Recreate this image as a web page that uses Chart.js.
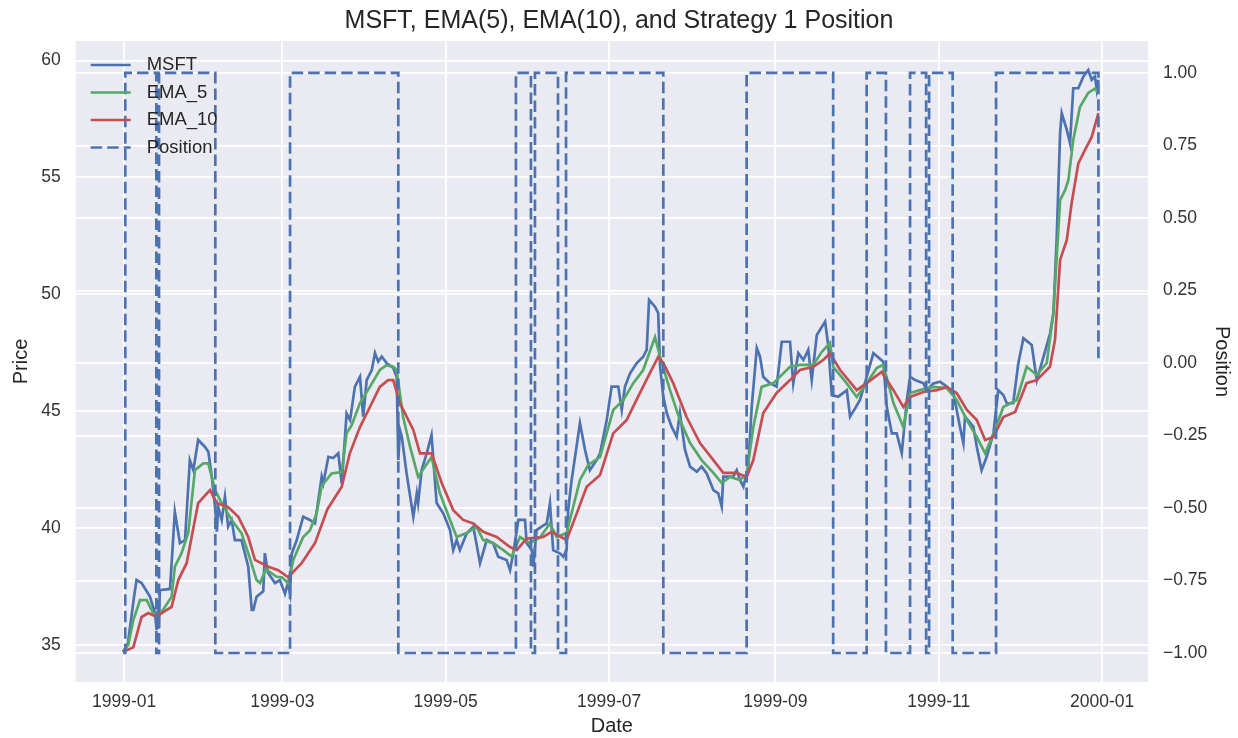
<!DOCTYPE html>
<html>
<head>
<meta charset="utf-8">
<title>MSFT EMA Strategy</title>
<script src="https://cdn.jsdelivr.net/npm/chart.js@4.4.0/dist/chart.umd.min.js"></script>
<style>
  body { margin: 0; background: #fff; }
  canvas { display: block; }
</style>
</head>
<body>
<canvas id="grafik" width="1238" height="738"></canvas>
<script>
// Hari = jumlah hari sejak 1999-01-01
const tickHari = [0, 59, 120, 181, 243, 304, 365];
const tickLabel = ["1999-01", "1999-03", "1999-05", "1999-07", "1999-09", "1999-11", "2000-01"];
const tickHarga = [35, 40, 45, 50, 55, 60];
const tickPosisi = [-1, -0.75, -0.5, -0.25, 0, 0.25, 0.5, 0.75, 1];

// Harga penutupan MSFT
const msftHari = [-0.4, 1.4, 3.6, 4.6, 6.5, 9.6, 11.5, 12.1, 12.6, 12.9, 13.3, 17.1, 18.9, 20.8, 22.7, 24.5, 25.8, 27.6, 30.1, 31.4,
  32.7, 33.9, 34.6, 35.1, 36.4, 37.6, 38.8, 40.1, 41.3, 43.8, 46.3, 47.6, 48.2, 49.4, 51.9, 52.5, 53.6, 56.3, 58.1, 60.0,
  61.1, 61.9, 62.5, 64.4, 66.8, 69.3, 71.2, 73.7, 74.3, 76.2, 78.0, 79.9, 81.2, 83.0, 84.3, 86.1, 88.0, 89.2, 90.5, 92.4,
  93.6, 94.8, 96.1, 98.0, 100.4, 101.7, 102.3, 102.9, 103.6, 105.4, 107.9, 109.2, 109.7, 111.0, 112.9, 114.7, 116.6, 119.1, 121.6, 122.8,
  124.1, 125.3, 127.8, 130.3, 132.8, 135.3, 137.7, 139.6, 142.7, 144.0, 145.2, 147.1, 149.6, 150.2, 152.1, 152.7, 153.9, 155.8, 157.7, 158.9,
  160.1, 162.6, 163.9, 165.1, 165.7, 167.0, 170.1, 172.0, 173.8, 176.3, 177.6, 180.1, 181.9, 184.4, 185.7, 186.9, 188.8, 191.3, 193.7, 195.0,
  195.9, 198.1, 199.3, 200.0, 201.2, 202.5, 204.3, 206.2, 207.4, 209.3, 211.2, 213.7, 215.5, 217.4, 219.9, 221.7, 223.0, 223.6, 227.3, 228.6,
  229.8, 231.1, 232.9, 234.2, 236.1, 237.3, 238.5, 241.0, 243.5, 245.4, 248.5, 249.7, 251.6, 253.5, 255.3, 256.6, 258.5, 261.6, 262.8, 264.1,
  266.5, 269.7, 270.9, 272.8, 274.6, 277.1, 279.6, 283.3, 284.6, 286.5, 288.3, 290.2, 292.1, 293.3, 295.2, 298.3, 299.5, 302.0, 304.5, 307.0,
  309.5, 311.9, 313.2, 313.8, 316.9, 318.2, 320.0, 321.9, 324.4, 326.2, 328.1, 329.4, 331.8, 333.7, 335.6, 338.7, 340.6, 342.4, 345.5, 346.8,
  348.0, 349.3, 349.9, 351.8, 353.0, 354.2, 356.1, 358.0, 359.8, 361.1, 362.3, 363.0, 363.6];
const msftHarga = [34.71, 35.08, 37.0, 37.78, 37.65, 37.07, 36.37, 35.64, 36.5, 35.7, 37.35, 37.4, 40.7, 39.36, 39.49, 42.9, 42.48, 43.77, 43.48, 43.27,
  42.2, 40.92, 39.85, 40.9, 40.35, 41.34, 40.06, 40.35, 39.49, 39.49, 38.35, 36.5, 36.5, 37.07, 37.3, 38.93, 38.1, 37.65, 37.78, 37.2,
  37.64, 37.2, 38.9, 39.49, 40.49, 40.35, 40.2, 42.2, 41.92, 43.05, 43.0, 43.2, 41.9, 44.9, 44.62, 46.05, 46.47, 44.77, 46.33, 46.76,
  47.49, 47.12, 47.34, 47.05, 46.85, 46.47, 42.91, 44.2, 43.91, 42.34, 40.49, 41.49, 41.07, 42.48, 43.2, 43.98, 41.07, 40.63, 39.92, 39.06,
  39.49, 39.06, 39.77, 40.06, 38.5, 39.49, 39.35, 38.78, 38.64, 38.2, 38.92, 40.35, 40.35, 39.36, 39.06, 38.35, 39.92, 40.06, 40.2, 41.06,
  39.06, 38.92, 38.78, 39.06, 40.77, 42.06, 44.49, 43.34, 42.48, 42.91, 43.2, 44.62, 46.05, 46.05, 45.05, 46.05, 46.62, 47.06, 47.33, 47.62,
  49.76, 49.47, 49.19, 46.91, 45.62, 44.92, 44.34, 43.91, 44.92, 43.34, 42.63, 42.41, 42.63, 42.34, 41.63, 41.49, 40.92, 42.2, 42.2, 42.48,
  42.06, 41.77, 42.63, 45.19, 47.7, 47.33, 46.47, 46.2, 46.05, 47.97, 47.97, 46.19, 47.48, 47.19, 47.62, 46.33, 48.26, 48.83, 47.76, 45.69,
  45.62, 45.9, 44.77, 45.12, 45.48, 46.47, 47.48, 47.12, 45.19, 44.05, 44.05, 43.2, 45.48, 46.47, 46.33, 46.19, 45.9, 46.19, 46.26, 46.05,
  45.77, 44.34, 43.63, 44.77, 44.34, 43.48, 42.48, 43.05, 44.05, 45.9, 45.69, 45.34, 45.34, 47.05, 48.12, 47.83, 46.33, 47.05, 48.3, 49.19,
  52.32, 56.89, 57.74, 57.03, 56.46, 58.81, 58.81, 59.31, 59.59, 59.17, 59.31, 58.74, 59.17];

// EMA(5)
const ema5Hari = [-0.4, 1.5, 3.4, 5.9, 8.4, 10.8, 12.7, 15.2, 17.7, 18.9, 21.4, 23.9, 26.4, 29.5, 31.4, 33.9, 36.4, 40.1, 43.8, 46.3,
  49.4, 50.7, 52.9, 55.0, 56.9, 58.8, 61.2, 63.1, 66.8, 69.3, 71.8, 73.7, 77.4, 81.2, 83.0, 84.9, 88.0, 91.7, 95.4, 97.9,
  100.4, 101.7, 104.1, 106.7, 109.7, 114.7, 117.8, 121.6, 124.1, 127.8, 131.5, 134.0, 137.7, 141.5, 144.6, 147.7, 151.4, 155.2, 158.9, 161.4,
  165.1, 170.1, 173.2, 177.6, 182.5, 186.3, 190.0, 193.7, 198.1, 200.0, 203.7, 207.4, 211.2, 215.5, 219.9, 223.0, 226.1, 229.8, 232.3, 234.8,
  237.9, 242.3, 248.5, 252.2, 257.2, 260.3, 263.4, 264.6, 269.6, 273.4, 277.1, 280.9, 283.3, 287.1, 290.8, 293.3, 297.0, 302.0, 307.0, 310.7,
  314.5, 318.2, 321.3, 325.0, 328.1, 333.1, 336.8, 340.6, 344.3, 346.8, 349.3, 351.2, 352.4, 354.2, 356.7, 359.8, 362.3, 363.6];
const ema5Nilai = [34.71, 35.0, 36.07, 36.92, 36.92, 36.37, 36.2, 36.63, 37.07, 38.35, 38.93, 39.79, 42.48, 42.77, 42.77, 41.63, 41.07, 40.35, 39.78, 38.93,
  37.78, 37.65, 38.25, 38.07, 37.92, 37.9, 37.65, 38.64, 39.62, 39.9, 40.63, 41.8, 42.34, 42.4, 44.05, 44.4, 45.35, 46.04, 46.76, 46.97,
  46.9, 46.76, 44.75, 43.47, 42.19, 43.04, 41.5, 40.35, 39.62, 39.79, 40.05, 39.49, 39.36, 39.06, 38.78, 39.62, 39.36, 39.6, 40.2, 39.62,
  39.79, 42.06, 42.7, 43.04, 45.05, 45.48, 46.2, 46.76, 48.17, 47.32, 45.9, 44.62, 43.64, 42.91, 42.36, 41.93, 42.19, 42.06, 42.3, 44.32,
  46.04, 46.2, 46.9, 46.98, 46.98, 47.53, 47.92, 46.9, 46.2, 45.61, 46.2, 46.85, 46.98, 45.35, 44.32, 45.78, 45.9, 46.04, 45.99, 45.48,
  44.62, 43.9, 43.2, 44.2, 45.18, 45.48, 46.9, 46.55, 47.06, 49.2, 54.03, 54.46, 54.89, 56.6, 58.01, 58.61, 58.8, 58.6];

// EMA(10)
const ema10Hari = [-0.4, 3.4, 6.5, 9.0, 12.1, 14.0, 17.7, 20.2, 23.3, 27.6, 32.0, 34.5, 38.8, 42.6, 46.3, 48.8, 53.8, 57.5, 61.2, 66.2,
  71.2, 75.8, 81.2, 84.2, 88.0, 91.7, 95.4, 98.5, 100.4, 102.9, 107.9, 110.4, 114.7, 118.5, 122.8, 126.5, 130.3, 134.0, 139.0, 144.0,
  146.5, 150.2, 156.4, 159.5, 165.1, 168.9, 172.6, 177.6, 182.5, 187.5, 192.5, 196.2, 199.3, 201.2, 204.9, 209.9, 214.9, 219.9, 223.6, 228.6,
  232.3, 234.8, 238.5, 243.5, 248.5, 252.2, 257.2, 260.9, 263.4, 267.2, 273.4, 277.1, 282.7, 287.1, 290.8, 293.3, 298.3, 303.3, 307.0, 310.7,
  314.5, 318.2, 321.3, 324.4, 328.1, 332.5, 336.8, 340.6, 345.5, 347.4, 349.3, 351.8, 353.6, 356.1, 358.6, 361.1, 363.6];
const ema10Nilai = [34.71, 34.9, 36.2, 36.37, 36.2, 36.37, 36.63, 37.78, 38.5, 41.07, 41.63, 41.07, 40.9, 40.48, 39.62, 38.64, 38.35, 38.2, 37.9, 38.5,
  39.36, 40.8, 41.77, 43.2, 44.32, 45.18, 46.04, 46.33, 46.33, 45.35, 44.2, 43.2, 43.2, 41.93, 40.77, 40.35, 40.2, 39.84, 39.62, 39.19,
  39.06, 39.55, 39.62, 39.84, 39.49, 40.63, 41.77, 42.27, 44.05, 44.62, 45.78, 46.63, 47.32, 47.06, 46.2, 44.75, 43.64, 42.91, 42.36, 42.36,
  42.19, 42.91, 44.92, 45.78, 46.33, 46.76, 46.9, 47.19, 47.48, 46.76, 45.9, 46.2, 46.68, 45.9, 45.18, 45.61, 45.82, 45.9, 46.04, 45.78,
  45.05, 44.62, 43.77, 43.9, 44.75, 44.97, 46.2, 46.33, 46.9, 48.05, 51.47, 52.32, 53.9, 55.6, 56.17, 56.73, 57.75];

// Posisi strategi (nilai baru mulai pada hari ini)
const posisiHari = [-0.4, 0.4, 12.0, 13.0, 34.0, 61.9, 102.3, 146.2, 151.8, 153.3, 161.9, 164.9, 201.2, 232.3, 264.6, 277.1, 284.3, 293.3, 299.3, 300.4,
  309.2, 325.4, 363.6];
const posisiNilai = [-1, 1, -1, 1, -1, 1, -1, 1, -1, 1, -1, 1, -1, 1, -1, 1, -1, 1, -1, 1,
  -1, 1, 0];

const BIRU = "#4C72B0";
const HIJAU = "#55A868";
const MERAH = "#C44E52";
const TEKS = "#262626";
const TEKS_TICK = "#333333";
const FONT = "'Liberation Sans', Arial, sans-serif";

function titik(hari, nilai) {
  return hari.map((h, i) => ({ x: h, y: nilai[i] }));
}

function fmtPosisi(v) {
  return v < 0 ? "\u2212" + Math.abs(v).toFixed(2) : v.toFixed(2);
}

// Latar abu-abu gaya seaborn
const latar = {
  id: "latar",
  beforeDraw(chart) {
    const { ctx, chartArea: a } = chart;
    ctx.save();
    ctx.fillStyle = "#fff";
    ctx.fillRect(0, 0, chart.width, chart.height);
    ctx.fillStyle = "#EAEAF2";
    ctx.fillRect(a.left, a.top, a.right - a.left, a.bottom - a.top);
    ctx.restore();
  }
};

// Legenda di dalam area plot (kiri atas)
const legendaDalam = {
  id: "legendaDalam",
  afterDraw(chart) {
    const { ctx, chartArea: a } = chart;
    const item = [
      { teks: "MSFT", warna: BIRU, dash: [] },
      { teks: "EMA_5", warna: HIJAU, dash: [] },
      { teks: "EMA_10", warna: MERAH, dash: [] },
      { teks: "Position", warna: BIRU, dash: [11.5, 5] }
    ];
    ctx.save();
    ctx.font = "18.5px " + FONT;
    ctx.textBaseline = "middle";
    item.forEach((it, i) => {
      const y = a.top + 24 + i * 27.5;
      ctx.strokeStyle = it.warna;
      ctx.lineWidth = 2.7;
      ctx.setLineDash(it.dash);
      ctx.beginPath();
      ctx.moveTo(a.left + 15, y);
      ctx.lineTo(a.left + 55, y);
      ctx.stroke();
      ctx.fillStyle = TEKS;
      ctx.fillText(it.teks, a.left + 71, y);
    });
    ctx.restore();
  }
};

function gayaGaris(label, data, warna, urutan, sumbu) {
  return {
    label, data, borderColor: warna, backgroundColor: warna,
    borderWidth: 2.7, pointRadius: 0, tension: 0, yAxisID: sumbu, order: urutan
  };
}

// Garis posisi: horizontal dulu, lalu naik/turun di hari berikutnya
const posisiSet = gayaGaris("Position", titik(posisiHari, posisiNilai), BIRU, 0, "y2");
posisiSet.borderDash = [11.5, 5];
posisiSet.stepped = "before";

const ctx = document.getElementById("grafik").getContext("2d");
window.grafikMsft = new Chart(ctx, {
  type: "line",
  data: {
    datasets: [
      gayaGaris("MSFT", titik(msftHari, msftHarga), BIRU, 3, "y"),
      gayaGaris("EMA_5", titik(ema5Hari, ema5Nilai), HIJAU, 2, "y"),
      gayaGaris("EMA_10", titik(ema10Hari, ema10Nilai), MERAH, 1, "y"),
      posisiSet
    ]
  },
  options: {
    responsive: false,
    devicePixelRatio: 1,
    animation: false,
    layout: { padding: 0 },
    plugins: {
      legend: { display: false },
      tooltip: { enabled: false },
      title: {
        display: true,
        text: "MSFT, EMA(5), EMA(10), and Strategy 1 Position",
        color: TEKS,
        font: { family: FONT, size: 25, weight: "normal", lineHeight: 1.2 },
        padding: { top: 6, bottom: 5 }
      }
    },
    scales: {
      x: {
        type: "linear",
        min: -18.1,
        max: 382.1,
        afterBuildTicks: (s) => { s.ticks = tickHari.map(v => ({ value: v })); },
        afterFit: (s) => { s.height = 56; },
        ticks: {
          autoSkip: false, maxRotation: 0, padding: 10, color: TEKS_TICK,
          font: { family: FONT, size: 17.5 },
          callback: (v, i) => tickLabel[i]
        },
        grid: { color: "#fff", lineWidth: 1.7, drawTicks: false },
        border: { display: false },
        title: { display: true, text: "Date", color: TEKS, font: { family: FONT, size: 20 }, padding: { top: 0, bottom: 0 } }
      },
      y: {
        position: "left",
        min: 33.42,
        max: 60.83,
        afterBuildTicks: (s) => { s.ticks = tickHarga.map(v => ({ value: v })); },
        afterFit: (s) => { s.width = 75.7; },
        ticks: { padding: 15, color: TEKS_TICK, font: { family: FONT, size: 17.5 } },
        grid: { color: "#fff", lineWidth: 1.7, drawTicks: false },
        border: { display: false },
        title: { display: true, text: "Price", color: TEKS, font: { family: FONT, size: 20 }, padding: { top: 9, bottom: 0 } }
      },
      y2: {
        position: "right",
        min: -1.1,
        max: 1.11,
        afterBuildTicks: (s) => { s.ticks = tickPosisi.map(v => ({ value: v })); },
        afterFit: (s) => { s.width = 90; },
        ticks: { padding: 15, color: TEKS_TICK, font: { family: FONT, size: 17.5 }, callback: (v) => fmtPosisi(v) },
        grid: { color: "#fff", lineWidth: 1.7, drawTicks: false },
        border: { display: false },
        title: { display: true, text: "Position", color: TEKS, font: { family: FONT, size: 20 }, padding: { top: 4, bottom: 0 } }
      }
    }
  },
  plugins: [latar, legendaDalam]
});
</script>
</body>
</html>
